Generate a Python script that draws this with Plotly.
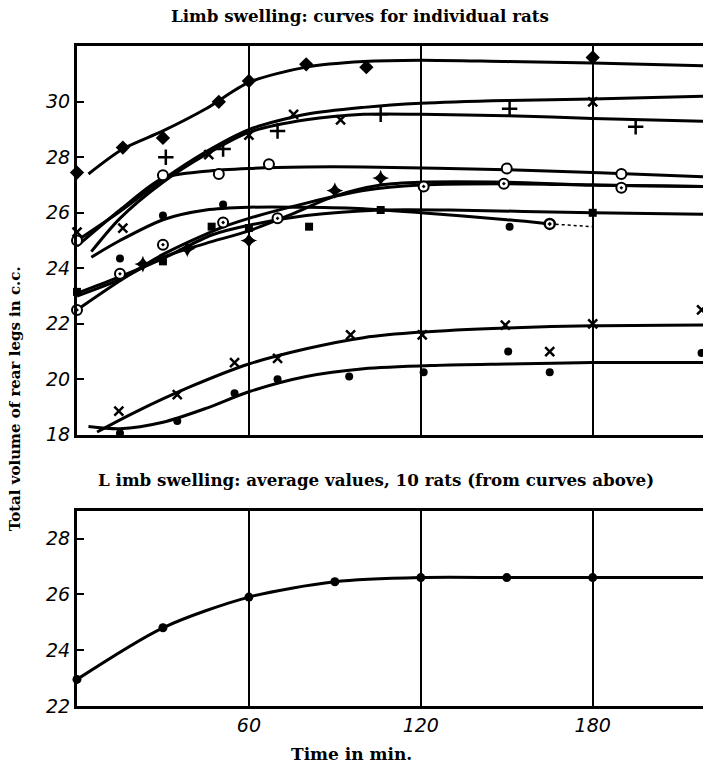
import plotly.graph_objects as go

# ---------------- data ----------------
# Upper panel: individual rats. *_PT = measured points, *_CV = drawn smooth curve
DIA_PT_T = [0, 16, 30, 49.5, 60, 80, 101, 180]
DIA_PT_V = [27.45, 28.35, 28.7, 30.0, 30.75, 31.35, 31.25, 31.6]
DIA_CV_T = [4, 16, 30, 45, 60, 80, 100, 120, 150, 180, 218.5]
DIA_CV_V = [27.4, 28.3, 28.95, 29.75, 30.7, 31.25, 31.45, 31.5, 31.45, 31.4, 31.3]

XA_PT_T = [0, 16, 46, 60, 75.6, 92, 180]
XA_PT_V = [25.3, 25.45, 28.1, 28.8, 29.55, 29.35, 30.0]
XA_CV_T = [0, 15, 30, 45, 60, 80, 100, 120, 150, 180, 218.5]
XA_CV_V = [25.0, 26.05, 27.2, 28.2, 29.0, 29.55, 29.8, 29.95, 30.05, 30.1, 30.2]

PL_PT_T = [31, 51, 70, 106, 151, 195]
PL_PT_V = [28.0, 28.3, 28.95, 29.55, 29.75, 29.1]
PL_CV_T = [5, 15, 30, 45, 60, 80, 100, 120, 150, 180, 218.5]
PL_CV_V = [24.6, 25.8, 27.1, 28.1, 28.9, 29.35, 29.55, 29.55, 29.5, 29.4, 29.3]

OC_PT_T = [0, 30, 49.5, 67, 150, 190]
OC_PT_V = [25.0, 27.35, 27.4, 27.75, 27.6, 27.4]
OC_CV_T = [0, 15, 30, 45, 60, 80, 100, 150, 180, 218.5]
OC_CV_V = [24.8, 26.1, 27.25, 27.5, 27.6, 27.65, 27.65, 27.55, 27.45, 27.3]

DOT_PT_T = [15, 30, 51, 151]
DOT_PT_V = [24.35, 25.9, 26.3, 25.5]
DOT_CV_T = [5, 15, 30, 45, 60, 80, 100, 120, 150, 165]
DOT_CV_V = [24.4, 25.0, 25.75, 26.1, 26.2, 26.2, 26.15, 26.0, 25.75, 25.6]
DOT_END_T = [165, 180]
DOT_END_V = [25.6, 25.5]
HALF_PT_T = [165]
HALF_PT_V = [25.6]

SQ_PT_T = [0, 30, 47, 60, 81, 106, 180]
SQ_PT_V = [23.15, 24.25, 25.5, 25.45, 25.5, 26.1, 26.0]
SQ_CV_T = [0, 15, 30, 47, 60, 80, 106, 130, 180, 218.5]
SQ_CV_V = [23.1, 23.7, 24.35, 25.2, 25.55, 25.9, 26.1, 26.1, 26.0, 25.95]

BE_PT_T = [0, 15, 30, 51, 70, 121, 149, 190]
BE_PT_V = [22.5, 23.8, 24.85, 25.65, 25.8, 26.95, 27.05, 26.9]
BE_CV_T = [0, 15, 30, 50, 60, 80, 100, 120, 150, 180, 218.5]
BE_CV_V = [22.5, 23.55, 24.5, 25.45, 25.8, 26.35, 26.8, 27.0, 27.05, 27.0, 26.95]

ST_PT_T = [23, 38.5, 60, 90, 106]
ST_PT_V = [24.15, 24.7, 25.0, 26.8, 27.25]
ST_CV_T = [0, 15, 30, 45, 60, 75, 90, 106, 120, 150, 180, 218.5]
ST_CV_V = [23.0, 23.6, 24.4, 24.9, 25.35, 25.95, 26.6, 27.0, 27.1, 27.1, 27.0, 26.95]

XL_PT_T = [14.6, 35, 55, 70, 95.5, 120.5, 149.5, 165, 180, 218]
XL_PT_V = [18.85, 19.45, 20.6, 20.75, 21.6, 21.6, 21.95, 21.0, 22.0, 22.5]
XL_CV_T = [7, 20, 40, 60, 80, 100, 120, 150, 180, 218.5]
XL_CV_V = [18.1, 18.8, 19.75, 20.55, 21.1, 21.5, 21.7, 21.85, 21.93, 21.96]

DL_PT_T = [15, 35, 55, 70, 95, 121, 150.5, 165, 218]
DL_PT_V = [18.05, 18.5, 19.5, 20.0, 20.1, 20.25, 21.0, 20.25, 20.95]
DL_CV_T = [4, 15, 30, 45, 60, 80, 100, 125, 150, 180, 218.5]
DL_CV_V = [18.3, 18.22, 18.45, 18.95, 19.55, 20.1, 20.38, 20.5, 20.55, 20.6, 20.6]

# Lower panel: averages of 10 rats
AVG_T = [0, 30, 60, 90, 120, 150, 180]
AVG_V = [22.95, 24.8, 25.9, 26.45, 26.6, 26.6, 26.6]
AVG_CV_T = [0, 30, 60, 90, 120, 150, 180, 218.5]
AVG_CV_V = [22.95, 24.8, 25.9, 26.45, 26.6, 26.6, 26.6, 26.6]

TOP_YTICKS = [18, 20, 22, 24, 26, 28, 30]
BOT_YTICKS = [22, 24, 26, 28]
XTICKS = [60, 120, 180]
XTICK_TEXT = ["60", "120", "180"]

# ---------------- figure ----------------
fig = go.Figure()
BLK = "black"


def curve(t, v, xa="x", ya="y", dash="solid", w=3):
    fig.add_trace(go.Scatter(x=t, y=v, mode="lines", xaxis=xa, yaxis=ya,
                             line=dict(color=BLK, width=w, shape="spline",
                                       smoothing=0.8, dash=dash),
                             hoverinfo="skip", cliponaxis=True))


def pts(t, v, symbol, size, fill=BLK, lw=0, xa="x", ya="y"):
    fig.add_trace(go.Scatter(x=t, y=v, mode="markers", xaxis=xa, yaxis=ya,
                             marker=dict(symbol=symbol, size=size, color=fill,
                                         line=dict(color=BLK, width=lw)),
                             cliponaxis=False))


for t, v in [(DIA_CV_T, DIA_CV_V), (XA_CV_T, XA_CV_V), (PL_CV_T, PL_CV_V),
             (OC_CV_T, OC_CV_V), (DOT_CV_T, DOT_CV_V), (SQ_CV_T, SQ_CV_V),
             (BE_CV_T, BE_CV_V), (ST_CV_T, ST_CV_V), (XL_CV_T, XL_CV_V),
             (DL_CV_T, DL_CV_V)]:
    curve(t, v)
curve(DOT_END_T, DOT_END_V, dash="dot", w=1.5)

pts(DIA_PT_T, DIA_PT_V, "diamond", 11)
pts(XA_PT_T, XA_PT_V, "x-thin", 9, lw=2.5)
pts(PL_PT_T, PL_PT_V, "cross-thin", 11, lw=2.5)
pts(OC_PT_T, OC_PT_V, "circle", 10, fill="white", lw=2)
pts(DOT_PT_T, DOT_PT_V, "circle", 8)
pts(HALF_PT_T, HALF_PT_V, "circle-dot", 10, fill="white", lw=2.5)
pts(SQ_PT_T, SQ_PT_V, "square", 8)
pts(BE_PT_T, BE_PT_V, "circle-dot", 10, fill="white", lw=2)
pts(ST_PT_T, ST_PT_V, "star-diamond", 12)
pts(XL_PT_T, XL_PT_V, "x-thin", 9, lw=2.5)
pts(DL_PT_T, DL_PT_V, "circle", 8)

curve(AVG_CV_T, AVG_CV_V, xa="x2", ya="y2")
pts(AVG_T, AVG_V, "circle", 9, xa="x2", ya="y2")

tickfont = dict(family="DejaVu Sans", size=19, color=BLK, style="italic")
XDOM = [77 / 703, 1.0]
common_x = dict(range=[0, 218.5], tickvals=XTICKS, ticktext=XTICK_TEXT,
                showgrid=True, gridcolor=BLK, gridwidth=2, zeroline=False,
                showline=True, linecolor=BLK, linewidth=3, mirror=True,
                ticks="", tickfont=tickfont, domain=XDOM)
common_y = dict(showgrid=False, zeroline=False, showline=True, linecolor=BLK,
                linewidth=3, ticks="inside", ticklen=7, tickwidth=2,
                tickcolor=BLK, tickfont=tickfont)

fig.update_layout(
    width=703, height=777, autosize=False,
    margin=dict(l=0, r=0, t=0, b=0),
    paper_bgcolor="white", plot_bgcolor="white",
    showlegend=False,
    xaxis=dict(common_x, anchor="y", showticklabels=False),
    yaxis=dict(common_y, range=[18, 32], tickvals=TOP_YTICKS,
               domain=[1 - 441 / 777, 1 - 47 / 777], anchor="x"),
    xaxis2=dict(common_x, anchor="y2", showticklabels=True),
    yaxis2=dict(common_y, range=[22, 29], tickvals=BOT_YTICKS,
                domain=[1 - 716 / 777, 1 - 518 / 777], anchor="x2"),
)

tfont = dict(family="DejaVu Serif", size=16.7, color=BLK, weight="bold")
fig.add_annotation(text="Limb swelling: curves for individual rats",
                   xref="paper", yref="paper", x=360 / 703, y=1 - 16 / 777,
                   showarrow=False, font=tfont, xanchor="center", yanchor="middle")
fig.add_annotation(text="L imb swelling: average values, 10 rats (from curves above)",
                   xref="paper", yref="paper", x=376 / 703, y=1 - 487 / 777,
                   showarrow=False, font=tfont, xanchor="center", yanchor="middle")
fig.add_annotation(text="Time in min.",
                   xref="paper", yref="paper", x=351 / 703, y=1 - 765 / 777,
                   showarrow=False, font=dict(tfont, size=17),
                   xanchor="center", yanchor="middle")
fig.add_annotation(text="Total volume of rear legs in c.c.",
                   xref="paper", yref="paper", x=15 / 703, y=1 - 405 / 777,
                   showarrow=False, font=dict(tfont, size=15), textangle=-90,
                   xanchor="center", yanchor="middle")

fig.write_html("out.html")
